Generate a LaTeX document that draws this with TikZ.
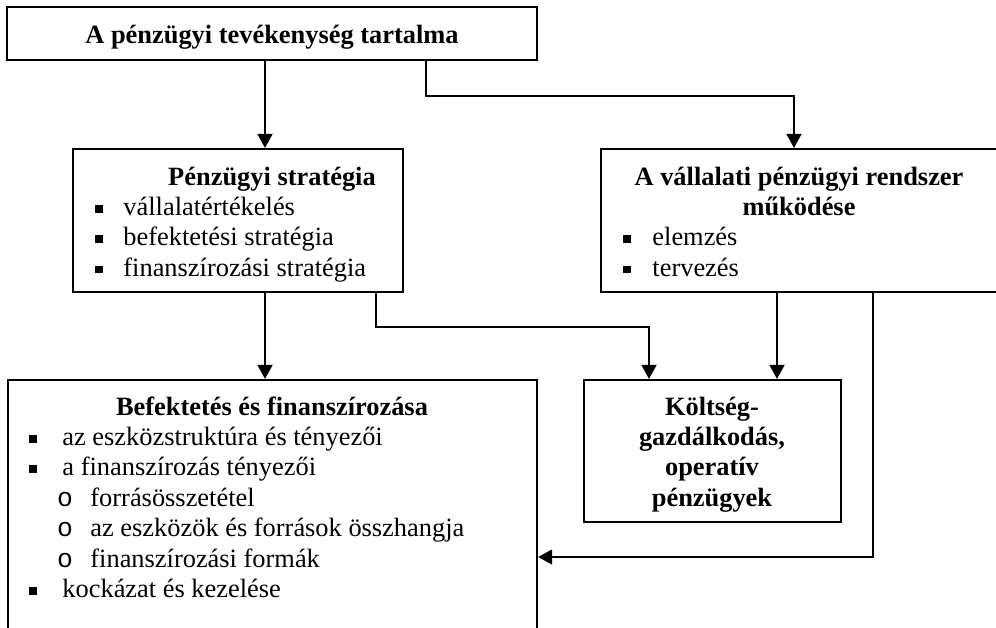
\documentclass[tikz,border=0pt]{standalone}
\usepackage{fontspec}
\setmainfont{Liberation Serif}
\newfontfamily\monofont{Liberation Mono}
\usetikzlibrary{arrows.meta,fit}

\newcommand{\bodysize}{\fontsize{12}{13.8}\selectfont}
\tikzset{
  box/.style={draw, line width=1pt, inner sep=0pt},
  arr/.style={-{Triangle[length=6.4pt,width=6.8pt]}, line width=0.9pt},
  head/.style={font=\bodysize\bfseries, anchor=base, inner sep=0pt},
  item/.style={font=\bodysize, anchor=base west, inner sep=0pt},
  bulletmark/.style={font=\bodysize, anchor=base, inner sep=0pt},
}
\newcommand{\sqbullet}{\rule[0.11em]{0.29em}{0.29em}}
\newcommand{\ocircle}{{\monofont o}}

\begin{document}
\begin{tikzpicture}[x=0.4545pt, y=-0.4545pt, font=\bodysize]
  \useasboundingbox (0,0) rectangle (996,627);

  % ===== BOXES =====
  \node[box, fit={(7,7) (537,60)}] (top) {};
  \node[box, fit={(73,149) (403,292)}] (strat) {};
  \node[box, fit={(601,149) (998,292)}] (sys) {};
  \node[box, fit={(8,380) (537,700)}] (inv) {};
  \node[box, fit={(584,380) (841,522)}] (cost) {};

  % ===== TOP =====
  \node[head] (toptitle) at (272,43) {A pénzügyi tevékenység tartalma};

  % ===== PENZUGYI STRATEGIA =====
  \node[head] (strattitle) at (272,185) {Pénzügyi stratégia};
  \foreach \y/\txt [count=\i] in {215.4/vállalatértékelés, 245.8/befektetési stratégia,
                                 276.2/finanszírozási stratégia}{
    \node[bulletmark] (stratb\i) at (99,\y) {\sqbullet};
    \node[item] (strat\i) at (123,\y) {\txt};
  }

  % ===== VALLALATI PENZUGYI RENDSZER =====
  \node[head] (systitle1) at (799,185) {A vállalati pénzügyi rendszer};
  \node[head] (systitle2) at (799,215.4) {működése};
  \foreach \y/\txt [count=\i] in {245.8/elemzés, 276.2/tervezés}{
    \node[bulletmark] (sysb\i) at (627,\y) {\sqbullet};
    \node[item] (sys\i) at (652,\y) {\txt};
  }

  % ===== BEFEKTETES ES FINANSZIROZASA =====
  \node[head] (invtitle) at (272,415) {Befektetés és finanszírozása};
  \foreach \y/\txt [count=\i] in {445.4/az eszközstruktúra és tényezői,
                                 475.8/a finanszírozás tényezői,
                                 597.4/kockázat és kezelése}{
    \node[bulletmark] (invb\i) at (33,\y) {\sqbullet};
    \node[item] (inv\i) at (62,\y) {\txt};
  }
  \foreach \y/\txt [count=\i] in {506.2/forrásösszetétel,
                                 536.6/az eszközök és források összhangja,
                                 567.0/finanszírozási formák}{
    \node[bulletmark] (invo\i) at (65,\y) {\ocircle};
    \node[item] (invsub\i) at (90,\y) {\txt};
  }

  % ===== KOLTSEGGAZDALKODAS =====
  \foreach \y/\txt [count=\i] in {415/Költség-, 445.4/{gazdálkodás,},
                                 475.8/operatív, 506.2/pénzügyek}{
    \node[head] (cost\i) at (712,\y) {\txt};
  }

  % ===== CONNECTORS =====
  \coordinate (c1) at (265,0);
  \coordinate (c2) at (426,96);
  \coordinate (c2b) at (794,96);
  \coordinate (c3) at (376,327);
  \coordinate (c3b) at (649,327);
  \coordinate (c4) at (777,0);
  \coordinate (c5) at (873,557);

  \draw[arr] (c1 |- top.south) -- (c1 |- strat.north);
  \draw[arr] (c2 |- top.south) -- (c2) -- (c2b) -- (c2b |- sys.north);
  \draw[arr] (c1 |- strat.south) -- (c1 |- inv.north);
  \draw[arr] (c3 |- strat.south) -- (c3) -- (c3b) -- (c3b |- cost.north);
  \draw[arr] (c4 |- sys.south) -- (c4 |- cost.north);
  \draw[arr] (c5 |- sys.south) -- (c5) -- (c5 -| inv.east);

\end{tikzpicture}
\end{document}
